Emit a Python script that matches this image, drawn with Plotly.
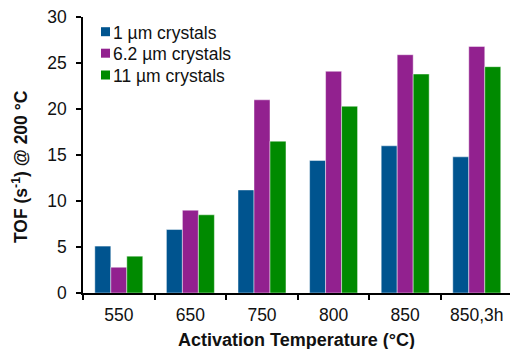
import plotly.graph_objects as go

# Activation temperatures (°C) and turnover frequencies at 200 °C
temperatures = ["550", "650", "750", "800", "850", "850,3h"]
tof_1um = [5.1, 6.9, 11.2, 14.4, 16.0, 14.8]
tof_6um = [2.8, 9.0, 21.0, 24.1, 25.9, 26.8]
tof_11um = [4.0, 8.5, 16.5, 20.3, 23.8, 24.6]
series_names = ["1 µm crystals", "6.2 µm crystals", "11 µm crystals"]
series_colors = ["#00548F", "#92218F", "#008A00"]

W, H = 510, 349
L, R, T, B = 83, 0, 17, 56
plot_w = W - L - R
plot_h = H - T - B

fig = go.Figure()
for name, vals, col in zip(series_names, [tof_1um, tof_6um, tof_11um], series_colors):
    fig.add_trace(go.Bar(
        x=temperatures, y=vals, name=name,
        marker=dict(color=col, line=dict(color="rgba(255,255,255,0.45)", width=1)),
        showlegend=False,
    ))

font = "Liberation Sans, Arial, Helvetica, sans-serif"

# Hand-drawn legend: small squares with labels to their right
def px_x(p):
    return (p - L) / plot_w

def px_y(p):
    return (H - B - p) / plot_h

shapes = []
annotations = []
row_y = [31.7, 53.2, 75.0]
for name, col, cy in zip(series_names, series_colors, row_y):
    shapes.append(dict(type="rect", xref="paper", yref="paper",
                       x0=px_x(101), x1=px_x(110), y0=px_y(cy - 4.5), y1=px_y(cy + 4.5),
                       fillcolor=col, line=dict(width=0)))
    annotations.append(dict(xref="paper", yref="paper", x=px_x(111), y=px_y(cy + 1),
                            text=name, showarrow=False, xanchor="left", yanchor="middle",
                            font=dict(family=font, size=17.5, color="#111")))

# Axis titles
annotations.append(dict(xref="paper", yref="paper", x=px_x(20), y=px_y(167),
                        text="<b>TOF (s<sup>-1</sup>) @ 200 °C</b>", textangle=-90,
                        showarrow=False, xanchor="center", yanchor="middle",
                        font=dict(family=font, size=17.5, color="#111")))
annotations.append(dict(xref="paper", yref="paper", x=px_x(296.5), y=px_y(340),
                        text="<b>Activation Temperature (°C)</b>",
                        showarrow=False, xanchor="center", yanchor="middle",
                        font=dict(family=font, size=18, color="#111")))

fig.update_layout(
    width=W, height=H,
    margin=dict(l=L, r=R, t=T, b=B, pad=0),
    paper_bgcolor="white", plot_bgcolor="white",
    barmode="group", bargap=0.33, bargroupgap=0,
    font=dict(family=font, size=17.5, color="#111"),
    shapes=shapes, annotations=annotations,
    xaxis=dict(
        type="category", range=[-0.5, 5.464], showgrid=False,
        showline=True, linecolor="black", linewidth=1.5,
        ticks="outside", tickson="boundaries", ticklen=5, tickwidth=1.5, tickcolor="black",
        ticklabelstandoff=5,
        tickfont=dict(family=font, size=17.5, color="#111"),
    ),
    yaxis=dict(
        range=[0, 30], tickvals=[0, 5, 10, 15, 20, 25, 30], showgrid=False, zeroline=False,
        showline=True, linecolor="black", linewidth=1.5,
        ticks="outside", ticklen=5, tickwidth=1.5, tickcolor="black",
        ticklabelstandoff=6,
        tickfont=dict(family=font, size=17.5, color="#111"),
    ),
)

fig.write_html("out.html")
